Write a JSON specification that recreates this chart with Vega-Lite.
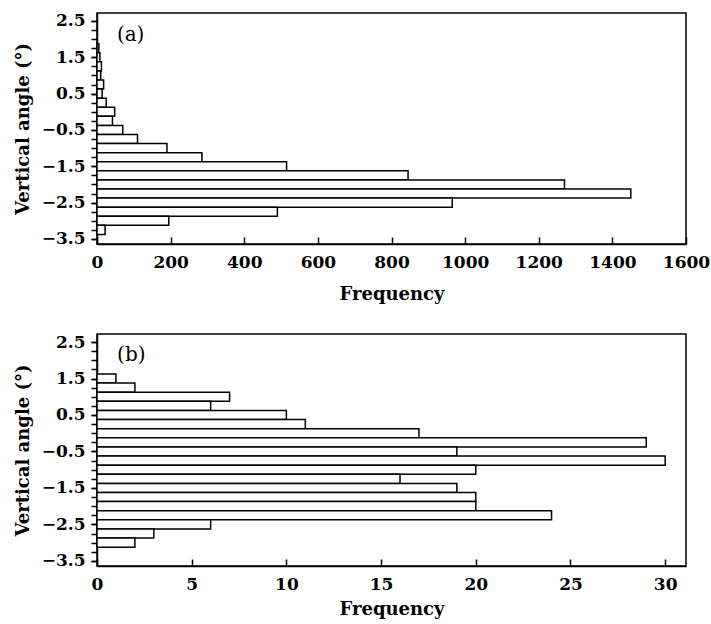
{
  "$schema": "https://vega.github.io/schema/vega-lite/v6.json",
  "background": "white",
  "padding": {"left": 13, "top": 11, "right": 0, "bottom": 0},
  "datasets": {
    "a": [
      {"lo": 1.625, "hi": 1.875, "count": 5},
      {"lo": 1.375, "hi": 1.625, "count": 8},
      {"lo": 1.125, "hi": 1.375, "count": 12},
      {"lo": 0.875, "hi": 1.125, "count": 10},
      {"lo": 0.625, "hi": 0.875, "count": 18},
      {"lo": 0.375, "hi": 0.625, "count": 14},
      {"lo": 0.125, "hi": 0.375, "count": 25},
      {"lo": -0.125, "hi": 0.125, "count": 48},
      {"lo": -0.375, "hi": -0.125, "count": 42},
      {"lo": -0.625, "hi": -0.375, "count": 70},
      {"lo": -0.875, "hi": -0.625, "count": 110},
      {"lo": -1.125, "hi": -0.875, "count": 190},
      {"lo": -1.375, "hi": -1.125, "count": 285},
      {"lo": -1.625, "hi": -1.375, "count": 515},
      {"lo": -1.875, "hi": -1.625, "count": 845},
      {"lo": -2.125, "hi": -1.875, "count": 1270},
      {"lo": -2.375, "hi": -2.125, "count": 1450},
      {"lo": -2.625, "hi": -2.375, "count": 965},
      {"lo": -2.875, "hi": -2.625, "count": 490},
      {"lo": -3.125, "hi": -2.875, "count": 195},
      {"lo": -3.375, "hi": -3.125, "count": 22}
    ],
    "b": [
      {"lo": 1.375, "hi": 1.625, "count": 1},
      {"lo": 1.125, "hi": 1.375, "count": 2},
      {"lo": 0.875, "hi": 1.125, "count": 7},
      {"lo": 0.625, "hi": 0.875, "count": 6},
      {"lo": 0.375, "hi": 0.625, "count": 10},
      {"lo": 0.125, "hi": 0.375, "count": 11},
      {"lo": -0.125, "hi": 0.125, "count": 17},
      {"lo": -0.375, "hi": -0.125, "count": 29},
      {"lo": -0.625, "hi": -0.375, "count": 19},
      {"lo": -0.875, "hi": -0.625, "count": 30},
      {"lo": -1.125, "hi": -0.875, "count": 20},
      {"lo": -1.375, "hi": -1.125, "count": 16},
      {"lo": -1.625, "hi": -1.375, "count": 19},
      {"lo": -1.875, "hi": -1.625, "count": 20},
      {"lo": -2.125, "hi": -1.875, "count": 20},
      {"lo": -2.375, "hi": -2.125, "count": 24},
      {"lo": -2.625, "hi": -2.375, "count": 6},
      {"lo": -2.875, "hi": -2.625, "count": 3},
      {"lo": -3.125, "hi": -2.875, "count": 2}
    ],
    "la": [{"x": 54, "y": 2.12, "t": "(a)"}],
    "lb": [{"x": 1.06, "y": 2.14, "t": "(b)"}]
  },
  "vconcat": [
    {
      "width": 589,
      "height": 231,
      "layer": [
        {
          "data": {"name": "a"},
          "mark": {"type": "rect", "fill": "white", "stroke": "black", "strokeWidth": 1.5},
          "encoding": {
            "y": {
              "field": "lo", "type": "quantitative",
              "scale": {"domain": [-3.64, 2.72], "nice": false, "zero": false},
              "axis": {
                "title": "Vertical angle (°)", "orient": "left",
                "values": [-3.5, -2.5, -1.5, -0.5, 0.5, 1.5, 2.5],
                "format": ".1f"
              }
            },
            "y2": {"field": "hi"},
            "x": {
              "field": "count", "type": "quantitative",
              "scale": {"domain": [0, 1600], "nice": false},
              "axis": {"title": "Frequency", "values": [0,200,400,600,800,1000,1200,1400,1600], "format": "d", "labelFlush": false}
            },
            "x2": {"datum": 0}
          }
        },
        {
          "data": {"name": "la"},
          "mark": {"type": "text", "font": "DejaVu Serif", "fontSize": 20, "align": "left", "baseline": "middle", "color": "black"},
          "encoding": {
            "x": {"field": "x", "type": "quantitative"},
            "y": {
              "field": "y", "type": "quantitative",
              "scale": {"domain": [-3.64, 2.72], "nice": false, "zero": false},
              "axis": {
                "title": null, "orient": "left", "labels": false, "domain": false,
                "values": [-3.5,-3.25,-3,-2.75,-2.5,-2.25,-2,-1.75,-1.5,-1.25,-1,-0.75,-0.5,-0.25,0,0.25,0.5,0.75,1,1.25,1.5,1.75,2,2.25,2.5]
              }
            },
            "text": {"field": "t"}
          }
        }
      ],
      "resolve": {"axis": {"y": "independent"}}
    },
    {
      "width": 589,
      "height": 232,
      "layer": [
        {
          "data": {"name": "b"},
          "mark": {"type": "rect", "fill": "white", "stroke": "black", "strokeWidth": 1.5},
          "encoding": {
            "y": {
              "field": "lo", "type": "quantitative",
              "scale": {"domain": [-3.64, 2.72], "nice": false, "zero": false},
              "axis": {
                "title": "Vertical angle (°)", "orient": "left",
                "values": [-3.5, -2.5, -1.5, -0.5, 0.5, 1.5, 2.5],
                "format": ".1f"
              }
            },
            "y2": {"field": "hi"},
            "x": {
              "field": "count", "type": "quantitative",
              "scale": {"domain": [0, 31.1], "nice": false},
              "axis": {"title": "Frequency", "values": [0,5,10,15,20,25,30], "format": "d", "titlePadding": 8, "labelFlush": false}
            },
            "x2": {"datum": 0}
          }
        },
        {
          "data": {"name": "lb"},
          "mark": {"type": "text", "font": "DejaVu Serif", "fontSize": 20, "align": "left", "baseline": "middle", "color": "black"},
          "encoding": {
            "x": {"field": "x", "type": "quantitative"},
            "y": {
              "field": "y", "type": "quantitative",
              "scale": {"domain": [-3.64, 2.72], "nice": false, "zero": false},
              "axis": {
                "title": null, "orient": "left", "labels": false, "domain": false,
                "values": [-3.5,-3.25,-3,-2.75,-2.5,-2.25,-2,-1.75,-1.5,-1.25,-1,-0.75,-0.5,-0.25,0,0.25,0.5,0.75,1,1.25,1.5,1.75,2,2.25,2.5]
              }
            },
            "text": {"field": "t"}
          }
        }
      ],
      "resolve": {"axis": {"y": "independent"}}
    }
  ],
  "spacing": 90,
  "bounds": "flush",
  "config": {
    "view": {"stroke": "black", "strokeWidth": 1.5},
    "axis": {
      "grid": false,
      "domainColor": "black", "domainWidth": 1.5,
      "tickColor": "black", "tickWidth": 1.5,
      "labelColor": "black", "titleColor": "black",
      "labelFont": "DejaVu Serif", "titleFont": "DejaVu Serif",
      "labelFontSize": 17, "labelFontWeight": "bold",
      "titleFontSize": 18, "titleFontWeight": "bold",
      "labelFlush": false
    },
    "axisY": {"tickSize": 6, "labelPadding": 6, "titlePadding": 9},
    "axisX": {"tickSize": -7, "labelPadding": 17, "titlePadding": 15}
  }
}
